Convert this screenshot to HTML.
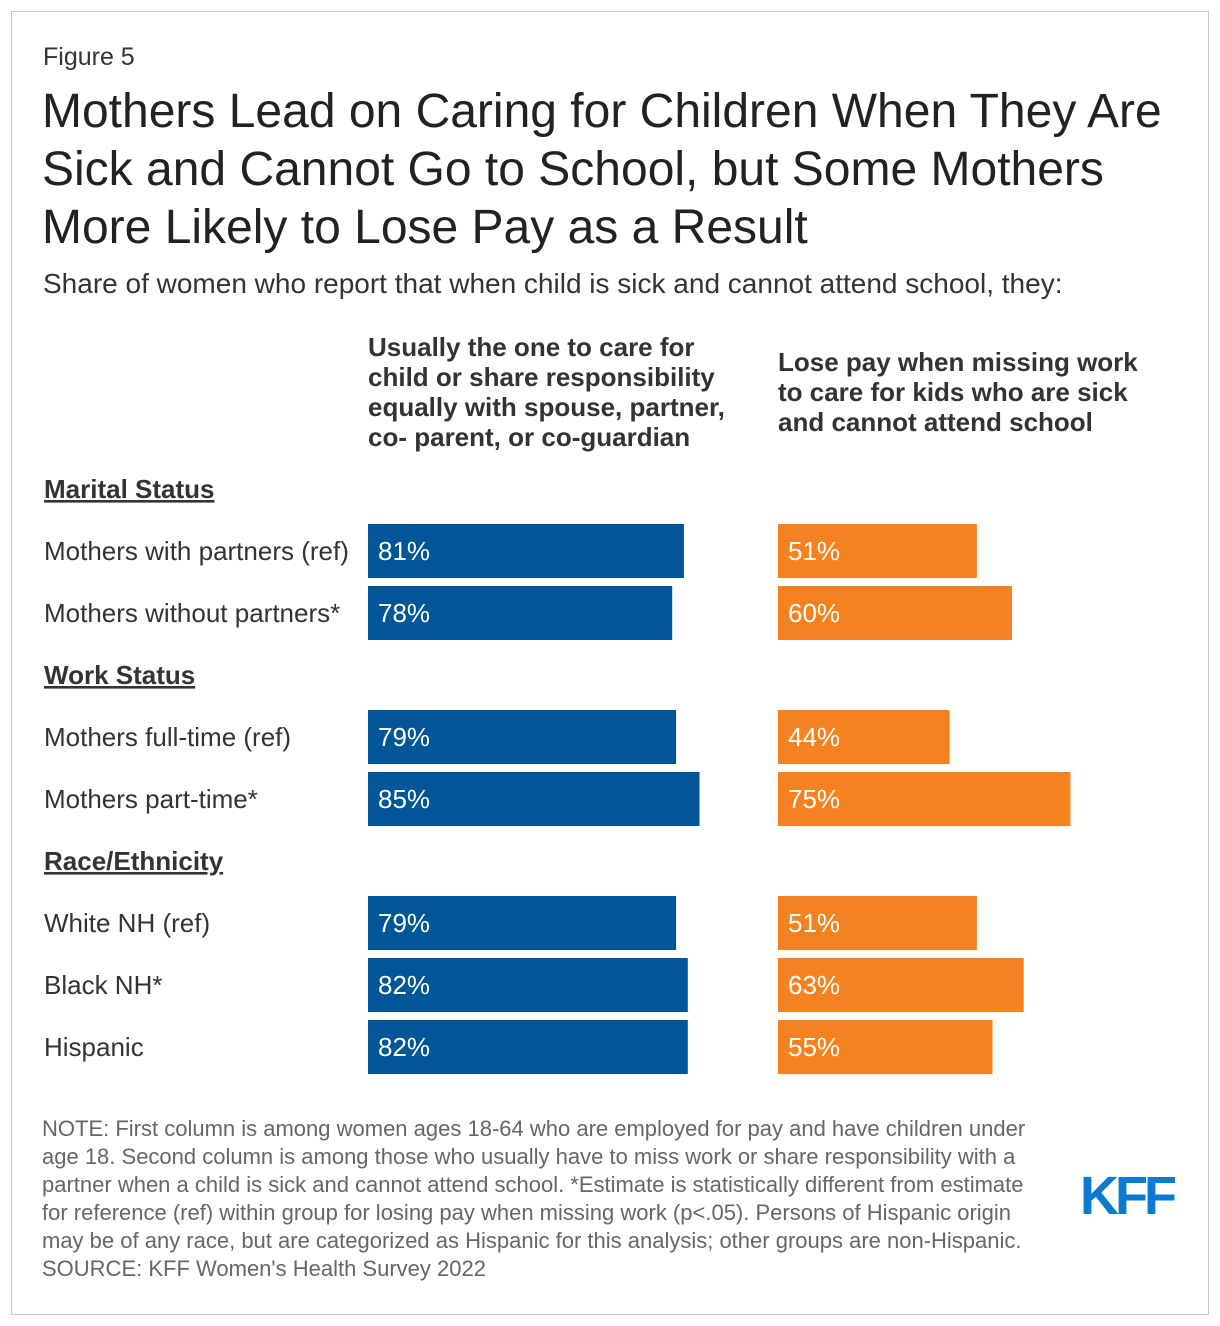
<!DOCTYPE html>
<html><head><meta charset="utf-8"><style>
body{margin:0;width:1220px;height:1326px;background:#fff;font-family:"Liberation Sans",Arial,sans-serif;color:#222;position:relative;overflow:hidden}
.frame{position:absolute;left:11px;top:11px;width:1196px;height:1302px;border:1px solid #c8c8c8}
.abs{position:absolute;white-space:nowrap}
</style></head><body>
<div class="frame"></div>
<div class="abs" style="left:43px;top:43px;font-size:25px;color:#333">Figure 5</div>
<div class="abs" style="left:42px;top:83px;font-size:48px;line-height:58px;color:#222">Mothers Lead on Caring for Children When They Are<br>Sick and Cannot Go to School, but Some Mothers<br>More Likely to Lose Pay as a Result</div>
<div class="abs" style="left:43px;top:268px;font-size:28px;color:#333">Share of women who report that when child is sick and cannot attend school, they:</div>
<div class="abs" style="left:368px;top:332px;font-size:26px;line-height:30px;font-weight:bold;color:#333">Usually the one to care for<br>child or share responsibility<br>equally with spouse, partner,<br>co- parent, or co-guardian</div>
<div class="abs" style="left:778px;top:347px;font-size:26px;line-height:30px;font-weight:bold;color:#333">Lose pay when missing work<br>to care for kids who are sick<br>and cannot attend school</div>
<svg id="chart" class="abs" style="left:0;top:0" width="1220" height="1326"></svg>
<div class="abs" style="left:42px;top:1115px;font-size:22px;line-height:28px;color:#666">NOTE: First column is among women ages 18-64 who are employed for pay and have children under<br>age 18. Second column is among those who usually have to miss work or share responsibility with a<br>partner when a child is sick and cannot attend school. *Estimate is statistically different from estimate<br>for reference (ref) within group for losing pay when missing work (p&lt;.05). Persons of Hispanic origin<br>may be of any race, but are categorized as Hispanic for this analysis; other groups are non-Hispanic.<br>SOURCE: KFF Women's Health Survey 2022</div>
<div class="abs" style="left:1080px;top:1165px;font-size:54px;font-weight:bold;color:#0a7bd0;letter-spacing:-4px">KFF</div>
<script>
const categories=["Mothers with partners (ref)","Mothers without partners*","Mothers full-time (ref)","Mothers part-time*","White NH (ref)","Black NH*","Hispanic"];
const careValues=[81,78,79,85,79,82,82];
const losePayValues=[51,60,44,75,51,63,55];
const groupHeaders=["Marital Status","Work Status","Race/Ethnicity"];
const groupSizes=[2,2,3];
const svg=document.getElementById('chart');
const NS="http://www.w3.org/2000/svg";
const scale=v=>v*3.9;
function mk(t,a){const e=document.createElementNS(NS,t);for(const k in a)e.setAttribute(k,a[k]);svg.appendChild(e);return e;}
let y=462,idx=0;
groupHeaders.forEach((g,gi)=>{
  const h=mk('text',{x:44,y:y+36,'font-size':26,'font-weight':'bold',fill:'#333','text-decoration':'underline'});
  h.textContent=g;
  
  
  y+=62;
  for(let k=0;k<groupSizes[gi];k++){
    const i=idx++;
    const l=mk('text',{x:44,y:y+36,'font-size':26,fill:'#333'});l.textContent=categories[i];
    
    
    const b1=mk('rect',{x:368,y:y,width:scale(careValues[i]),height:54,fill:'#005696'});
    
    
    const t1=mk('text',{x:378,y:y+36,'font-size':26,fill:'#fff'});t1.textContent=careValues[i]+'%';
    
    
    const b2=mk('rect',{x:778,y:y,width:scale(losePayValues[i]),height:54,fill:'#f58220'});
    
    
    const t2=mk('text',{x:788,y:y+36,'font-size':26,fill:'#fff'});t2.textContent=losePayValues[i]+'%';
    
    
    y+=62;
  }
});
</script>
</body></html>
